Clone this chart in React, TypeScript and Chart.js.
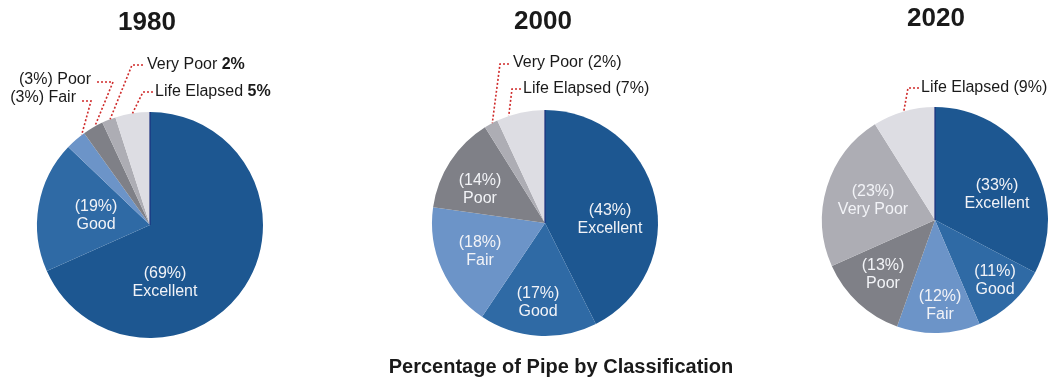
import React, { useEffect, useRef } from "react";
import { Chart, registerables } from "chart.js";

Chart.register(...registerables);

// ---------- data ----------
const categories = ["Excellent", "Good", "Fair", "Poor", "Very Poor", "Life Elapsed"];
const years = ["1980", "2000", "2020"];
const values1980 = [69, 19, 3, 3, 2, 5];
const values2000 = [43, 17, 18, 14, 2, 7];
const values2020 = [33, 11, 12, 13, 23, 9];
const seriesValues = [values1980, values2000, values2020];
const captionText = "Percentage of Pipe by Classification";

// ---------- styles ----------
const sliceColors = ["#1d5791", "#2f6aa5", "#6c94c8", "#7f8087", "#adadb4", "#dddde3"];
const FONT = "'Liberation Sans', Arial, Helvetica, sans-serif";
const W = 1053;
const H = 383;

type Inside = { i: number; dx: number; dy: number };
type Callout = {
  i: number;
  style: "prefix" | "bold" | "paren";
  tx: number;
  ty: number;
  align: "left" | "right";
  lx: number; // start of horizontal dotted segment
  ex: number; // elbow x
  ey: number; // elbow y
  frac: number; // position within slice for the line end
};
type PieLayout = {
  cx: number;
  cy: number;
  r: number;
  titleX: number;
  titleY: number;
  inside: Inside[];
  callouts: Callout[];
  caption: boolean;
};

const layouts: PieLayout[] = [
  {
    cx: 150, cy: 225, r: 113, titleX: 147, titleY: 23,
    inside: [
      { i: 1, dx: -54, dy: -9 },
      { i: 0, dx: 15, dy: 58 },
    ],
    callouts: [
      { i: 2, style: "prefix", tx: 76, ty: 98, align: "right", lx: 82, ex: 91, ey: 101, frac: 0.85 },
      { i: 3, style: "prefix", tx: 91, ty: 80, align: "right", lx: 97, ex: 113, ey: 82, frac: 0.6 },
      { i: 4, style: "bold", tx: 147, ty: 65, align: "left", lx: 143, ex: 132, ey: 65, frac: 0.6 },
      { i: 5, style: "bold", tx: 155, ty: 92, align: "left", lx: 153, ex: 143, ey: 92, frac: 0.5 },
    ],
    caption: false,
  },
  {
    cx: 545, cy: 223, r: 113, titleX: 543, titleY: 22,
    inside: [
      { i: 3, dx: -65, dy: -33 },
      { i: 0, dx: 65, dy: -3 },
      { i: 2, dx: -65, dy: 29 },
      { i: 1, dx: -7, dy: 80 },
    ],
    callouts: [
      { i: 4, style: "paren", tx: 513, ty: 63, align: "left", lx: 509, ex: 500, ey: 64, frac: 0.6 },
      { i: 5, style: "paren", tx: 523, ty: 89, align: "left", lx: 521, ex: 512, ey: 89, frac: 0.25 },
    ],
    caption: true,
  },
  {
    cx: 935, cy: 220, r: 113, titleX: 936, titleY: 19,
    inside: [
      { i: 4, dx: -62, dy: -19 },
      { i: 0, dx: 62, dy: -25 },
      { i: 3, dx: -52, dy: 55 },
      { i: 2, dx: 5, dy: 86 },
      { i: 1, dx: 60, dy: 61 },
    ],
    callouts: [
      { i: 5, style: "paren", tx: 921, ty: 88, align: "left", lx: 919, ex: 908, ey: 88, frac: 0.5 },
    ],
    caption: false,
  },
];

function calloutSegments(style: Callout["style"], name: string, v: number) {
  if (style === "prefix") return [{ t: `(${v}%) ${name}`, b: false }];
  if (style === "bold") return [{ t: `${name} `, b: false }, { t: `${v}%`, b: true }];
  return [{ t: `${name} (${v}%)`, b: false }];
}

function makePlugin(idx: number) {
  return {
    id: "pieDecor" + idx,
    afterDatasetsDraw(chart: any) {
      const ctx: CanvasRenderingContext2D = chart.ctx;
      const L = layouts[idx];
      const vals = seriesValues[idx];
      const arcs = chart.getDatasetMeta(0).data;
      ctx.save();

      // thin navy radial line at the top
      const a0 = arcs[0];
      ctx.strokeStyle = "#1b2f7e";
      ctx.lineWidth = 1.2;
      ctx.beginPath();
      ctx.moveTo(a0.x, a0.y);
      ctx.lineTo(a0.x + a0.outerRadius * Math.cos(a0.startAngle), a0.y + a0.outerRadius * Math.sin(a0.startAngle));
      ctx.stroke();

      // title
      ctx.fillStyle = "#1a1a1a";
      ctx.textAlign = "center";
      ctx.textBaseline = "middle";
      ctx.font = `bold 26px ${FONT}`;
      ctx.fillText(years[idx], L.titleX, L.titleY);

      // inside labels
      ctx.fillStyle = "#f2f3f7";
      ctx.font = `16px ${FONT}`;
      for (const lab of L.inside) {
        const a = arcs[lab.i];
        const x = a.x + lab.dx;
        const y = a.y + lab.dy;
        ctx.fillText(`(${vals[lab.i]}%)`, x, y - 9);
        ctx.fillText(categories[lab.i], x, y + 9);
      }

      // callouts
      for (const c of L.callouts) {
        const a = arcs[c.i];
        const ang = a.startAngle + (a.endAngle - a.startAngle) * c.frac;
        const px = a.x + a.outerRadius * Math.cos(ang);
        const py = a.y + a.outerRadius * Math.sin(ang);
        ctx.strokeStyle = "#cf2b2b";
        ctx.lineWidth = 1.6;
        ctx.setLineDash([2, 2]);
        ctx.beginPath();
        ctx.moveTo(c.lx, c.ey);
        ctx.lineTo(c.ex, c.ey);
        ctx.lineTo(px, py);
        ctx.stroke();
        ctx.setLineDash([]);

        const segs = calloutSegments(c.style, categories[c.i], vals[c.i]);
        let total = 0;
        for (const s of segs) {
          ctx.font = `${s.b ? "bold " : ""}16px ${FONT}`;
          total += ctx.measureText(s.t).width;
        }
        let x = c.align === "left" ? c.tx : c.tx - total;
        ctx.fillStyle = "#1a1a1a";
        ctx.textAlign = "left";
        for (const s of segs) {
          ctx.font = `${s.b ? "bold " : ""}16px ${FONT}`;
          ctx.fillText(s.t, x, c.ty);
          x += ctx.measureText(s.t).width;
        }
      }

      if (L.caption) {
        ctx.fillStyle = "#1a1a1a";
        ctx.textAlign = "center";
        ctx.font = `bold 20px ${FONT}`;
        ctx.fillText(captionText, 561, 367);
      }
      ctx.restore();
    },
  };
}

function PieCanvas({ idx }: { idx: number }) {
  const ref = useRef<HTMLCanvasElement>(null);
  useEffect(() => {
    const L = layouts[idx];
    const chart = new Chart(ref.current as HTMLCanvasElement, {
      type: "pie",
      data: {
        labels: categories,
        datasets: [
          {
            data: seriesValues[idx],
            backgroundColor: sliceColors,
            borderWidth: 0,
            hoverOffset: 0,
          },
        ],
      },
      options: {
        responsive: false,
        animation: false,
        events: [],
        layout: {
          padding: {
            left: L.cx - L.r,
            top: L.cy - L.r,
            right: W - (L.cx + L.r),
            bottom: H - (L.cy + L.r),
          },
        },
        plugins: {
          legend: { display: false },
          tooltip: { enabled: false },
          title: { display: false },
        },
      },
      plugins: [makePlugin(idx)],
    } as any);
    return () => chart.destroy();
  }, [idx]);
  return (
    <canvas
      ref={ref}
      width={W}
      height={H}
      style={{ position: "absolute", left: 0, top: 0, width: W, height: H }}
    />
  );
}

export default function App() {
  return (
    <div style={{ position: "fixed", left: 0, top: 0, width: W, height: H, background: "#ffffff" }}>
      {years.map((_, i) => (
        <PieCanvas key={i} idx={i} />
      ))}
    </div>
  );
}
